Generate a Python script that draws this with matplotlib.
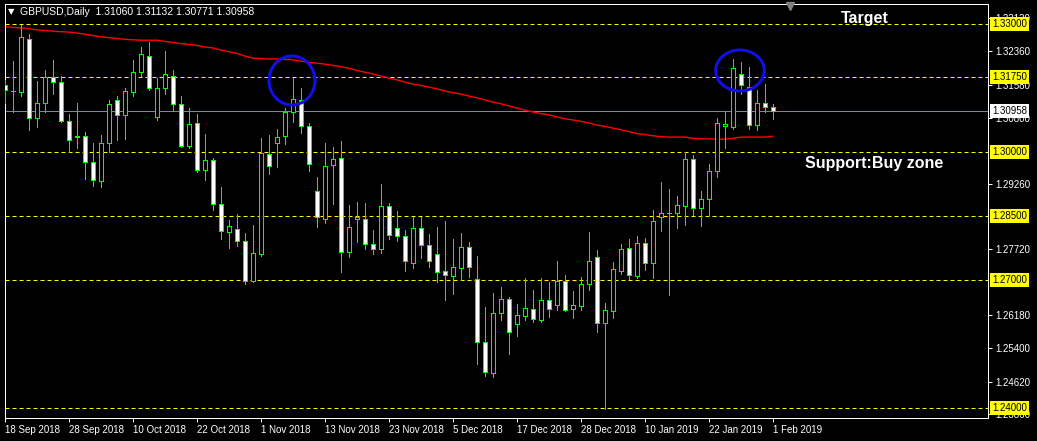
import matplotlib
matplotlib.use('Agg')
import matplotlib.pyplot as plt
from matplotlib.patches import Ellipse

# GBPUSD daily bars, 18 Sep 2018 .. 1 Feb 2019
opens = [1.3157, 1.3142, 1.3141, 1.3264, 1.3080, 1.3114, 1.3175, 1.3163, 1.3072, 1.3037,
         1.3037, 1.2977, 1.2931, 1.3020, 1.3121, 1.3086, 1.3140, 1.3187, 1.3224, 1.3081,
         1.3149, 1.3178, 1.3112, 1.3015, 1.3067, 1.2957, 1.2981, 1.2877, 1.2812, 1.2819,
         1.2791, 1.2698, 1.2761, 1.2995, 1.3020, 1.3037, 1.3094, 1.3122, 1.3060, 1.2908,
         1.2844, 1.2969, 1.2985, 1.2766, 1.2842, 1.2842, 1.2784, 1.2772, 1.2873, 1.2821,
         1.2802, 1.2741, 1.2821, 1.2781, 1.2760, 1.2720, 1.2710, 1.2729, 1.2777, 1.2702,
         1.2555, 1.2481, 1.2622, 1.2655, 1.2596, 1.2616, 1.2631, 1.2607, 1.2652, 1.2642,
         1.2697, 1.2631, 1.2638, 1.2691, 1.2753, 1.2600, 1.2628, 1.2722, 1.2774, 1.2710,
         1.2786, 1.2741, 1.2848, 1.2856, 1.2856, 1.2874, 1.2984, 1.2869, 1.2889, 1.2955,
         1.3060, 1.3059, 1.3182, 1.3153, 1.3063, 1.3114, 1.3106]
highs = [1.3169, 1.3213, 1.3298, 1.3277, 1.3166, 1.3192, 1.3216, 1.3178, 1.3089, 1.3115,
         1.3048, 1.3021, 1.3040, 1.3122, 1.3131, 1.3149, 1.3216, 1.3246, 1.3258, 1.3173,
         1.3237, 1.3192, 1.3131, 1.3103, 1.3089, 1.3042, 1.2987, 1.2918, 1.2841, 1.2855,
         1.2810, 1.2828, 1.3032, 1.3040, 1.3054, 1.3104, 1.3173, 1.3149, 1.3068, 1.2941,
         1.3021, 1.3012, 1.3026, 1.2876, 1.2883, 1.2880, 1.2817, 1.2925, 1.2880, 1.2862,
         1.2817, 1.2847, 1.2847, 1.2808, 1.2824, 1.2838, 1.2796, 1.2810, 1.2789, 1.2756,
         1.2637, 1.2670, 1.2684, 1.2660, 1.2644, 1.2705, 1.2677, 1.2705, 1.2695, 1.2744,
         1.2712, 1.2674, 1.2708, 1.2813, 1.2770, 1.2646, 1.2742, 1.2784, 1.2796, 1.2803,
         1.2798, 1.2864, 1.2930, 1.2913, 1.2897, 1.3000, 1.2993, 1.2909, 1.2973, 1.3079,
         1.3093, 1.3218, 1.3211, 1.3199, 1.3145, 1.3159, 1.31132]
lows = [1.3115, 1.3094, 1.3131, 1.3052, 1.3059, 1.3094, 1.3136, 1.3071, 1.2999, 1.3009,
        1.2937, 1.2921, 1.2918, 1.3001, 1.3027, 1.3031, 1.3132, 1.3179, 1.3145, 1.3075,
        1.3136, 1.3097, 1.3012, 1.3009, 1.2954, 1.2935, 1.2865, 1.2795, 1.2774, 1.2780,
        1.2691, 1.2696, 1.2757, 1.2949, 1.2966, 1.3018, 1.3071, 1.3044, 1.2956, 1.2825,
        1.2834, 1.2879, 1.2719, 1.2755, 1.2790, 1.2773, 1.2762, 1.2764, 1.2795, 1.2792,
        1.2722, 1.2729, 1.2752, 1.2731, 1.2696, 1.2654, 1.2668, 1.2700, 1.2708, 1.2503,
        1.2476, 1.2473, 1.2606, 1.2527, 1.2569, 1.2606, 1.2602, 1.2602, 1.2614, 1.2630,
        1.2628, 1.2612, 1.2630, 1.2677, 1.2577, 1.2397, 1.2611, 1.2713, 1.2702, 1.2704,
        1.2723, 1.2705, 1.2815, 1.2665, 1.2823, 1.2830, 1.2853, 1.2827, 1.2853, 1.2941,
        1.3010, 1.3054, 1.3135, 1.3055, 1.3052, 1.3093, 1.30771]
closes = [1.3145, 1.3144, 1.3269, 1.3079, 1.3114, 1.3175, 1.3163, 1.3073, 1.3027, 1.3036,
          1.2976, 1.2934, 1.3021, 1.3112, 1.3086, 1.3142, 1.3187, 1.3229, 1.3149, 1.3149,
          1.3182, 1.3112, 1.3015, 1.3066, 1.2957, 1.2981, 1.2877, 1.2814, 1.2826, 1.2791,
          1.2698, 1.2763, 1.2997, 1.2967, 1.3034, 1.3094, 1.3124, 1.3060, 1.2971, 1.2847,
          1.2967, 1.2983, 1.2766, 1.2824, 1.2847, 1.2784, 1.2772, 1.2873, 1.2805, 1.2802,
          1.2744, 1.2821, 1.2781, 1.2745, 1.2719, 1.2712, 1.2730, 1.2777, 1.2731, 1.2555,
          1.2484, 1.2622, 1.2655, 1.2577, 1.2618, 1.2634, 1.2608, 1.2652, 1.2631, 1.2697,
          1.2630, 1.2641, 1.2690, 1.2744, 1.2600, 1.2629, 1.2725, 1.2772, 1.2712, 1.2786,
          1.2741, 1.2838, 1.2856, 1.2858, 1.2876, 1.2984, 1.2869, 1.2889, 1.2955, 1.3067,
          1.3065, 1.3196, 1.3156, 1.3063, 1.3114, 1.3105, 1.30958]
ma = [1.3294, 1.3292, 1.3291, 1.3289, 1.3286, 1.3285, 1.3283, 1.3282, 1.3281, 1.3279,
      1.3276, 1.3273, 1.3270, 1.3268, 1.3266, 1.3264, 1.3263, 1.3262, 1.3262, 1.3262,
      1.3259, 1.3257, 1.3254, 1.3252, 1.3250, 1.3246, 1.3244, 1.3239, 1.3235, 1.3231,
      1.3225, 1.3220, 1.3219, 1.3218, 1.3218, 1.3217, 1.3216, 1.3213, 1.3210, 1.3208,
      1.3206, 1.3203, 1.3200, 1.3196, 1.3191, 1.3187, 1.3183, 1.3178, 1.3173, 1.3169,
      1.3164, 1.3159, 1.3156, 1.3152, 1.3148, 1.3143, 1.3139, 1.3136, 1.3131, 1.3127,
      1.3122, 1.3117, 1.3113, 1.3108, 1.3103, 1.3098, 1.3094, 1.3090, 1.3087, 1.3082,
      1.3078, 1.3075, 1.3072, 1.3068, 1.3063, 1.3060, 1.3056, 1.3052, 1.3048, 1.3043,
      1.3041, 1.3038, 1.3036, 1.3035, 1.3035, 1.3035, 1.3032, 1.3031, 1.3031, 1.3030,
      1.3030, 1.3032, 1.3035, 1.3035, 1.3035, 1.3035, 1.3037]

date_labels = ['18 Sep 2018', '28 Sep 2018', '10 Oct 2018', '22 Oct 2018', '1 Nov 2018',
               '13 Nov 2018', '23 Nov 2018', '5 Dec 2018', '17 Dec 2018', '28 Dec 2018',
               '10 Jan 2019', '22 Jan 2019', '1 Feb 2019']
# scale labels; the ones under the level boxes are hidden in the terminal
price_ticks = [1.33130, 1.32360, 1.31580, 1.30800, 1.29260,
               1.27720, 1.26180, 1.25400, 1.24620, 1.23860]
levels = [1.33, 1.3175, 1.30, 1.285, 1.27, 1.24]
bid = 1.30958

GREEN = '#00ff00'
FONT = 'Liberation Sans'
PX = 0.72  # one pixel in points at 100 dpi

fig = plt.figure(figsize=(10.37, 4.41), dpi=100, facecolor='black')
ax = fig.add_axes([4.5 / 1037, 23 / 441, 983.5 / 1037, 414 / 441])
ax.set_facecolor('black')

n = len(opens)
xs = list(range(n))

# horizontal levels and bid line
for lv in levels:
    ax.axhline(lv, color='#ffff00', lw=PX, ls=(0, (4, 3)), zorder=1)
ax.axhline(bid, color='#778899', lw=PX, zorder=1)

# candles
ax.vlines(xs, lows, highs, color=GREEN, lw=PX, zorder=3, antialiased=False)
bottoms = [min(o, c) for o, c in zip(opens, closes)]
heights = [max(abs(c - o), 0.00004) for o, c in zip(opens, closes)]
faces = ['black' if c > o else 'white' for o, c in zip(opens, closes)]
ax.bar(xs, heights, bottom=bottoms, width=0.55, color=faces, edgecolor=GREEN,
       linewidth=PX, zorder=4, antialiased=False)

# moving average
ax.plot(xs, ma, color='#ff0000', lw=1.0, zorder=2)

ax.set_xlim(-0.0625, 122.875)
ax.set_ylim(1.237656, 1.334688)

for s in ax.spines.values():
    s.set_color('white')
    s.set_linewidth(PX)

ax.yaxis.tick_right()
ax.set_yticks(price_ticks)
ax.set_yticklabels(['%.5f' % p for p in price_ticks], fontfamily=FONT)
ax.set_xticks(range(0, n, 8))
ax.set_xticklabels(date_labels, ha='left', fontfamily=FONT)
ax.tick_params(axis='both', colors='white', labelcolor='white', labelsize=7,
               length=3, width=PX, direction='out')
ax.tick_params(axis='y', pad=2)
ax.tick_params(axis='x', pad=2)

# price labels for levels
ytr = ax.get_yaxis_transform()
for lv in levels:
    ax.text(1.004, lv, '%.5f' % lv, transform=ytr, fontsize=7, fontfamily=FONT,
            color='black', va='center', ha='left', clip_on=False, zorder=10,
            bbox=dict(boxstyle='square,pad=0.2', fc='#ffff00', ec='none'))
ax.text(1.004, bid, '%.5f' % bid, transform=ytr, fontsize=7, fontfamily=FONT,
        color='black', va='center', ha='left', clip_on=False, zorder=10,
        bbox=dict(boxstyle='square,pad=0.2', fc='white', ec='none'))

# header
ax.text(0.004, 0.981, '\u25bc', transform=ax.transAxes, color='white', fontsize=6,
        va='center', ha='left', fontfamily='DejaVu Sans')
ax.text(0.016, 0.981, 'GBPUSD,Daily  1.31060 1.31132 1.30771 1.30958',
        transform=ax.transAxes, color='white', fontsize=7.5, va='center', ha='left',
        fontfamily=FONT)
ax.plot([0.7987], [0.995], marker='v', color='#808080', ms=6, transform=ax.transAxes,
        clip_on=False, zorder=10)

# annotations
ax.text(104.5, 1.3303, 'Target', color='white', fontsize=11.5, fontweight='bold',
        fontfamily=FONT, va='baseline', ha='left')
ax.text(100, 1.29618, 'Support:Buy zone', color='white', fontsize=11.5,
        fontweight='bold', fontfamily=FONT, va='baseline', ha='left')
ax.add_patch(Ellipse((35.875, 1.31676), 5.75, 0.01148, fill=False, ec='#1010e6',
                     lw=2.2, zorder=6))
ax.add_patch(Ellipse((91.875, 1.3191), 6.07, 0.00961, fill=False, ec='#1010e6',
                     lw=2.2, zorder=6))

fig.savefig('out.png', dpi=100, facecolor='black')
